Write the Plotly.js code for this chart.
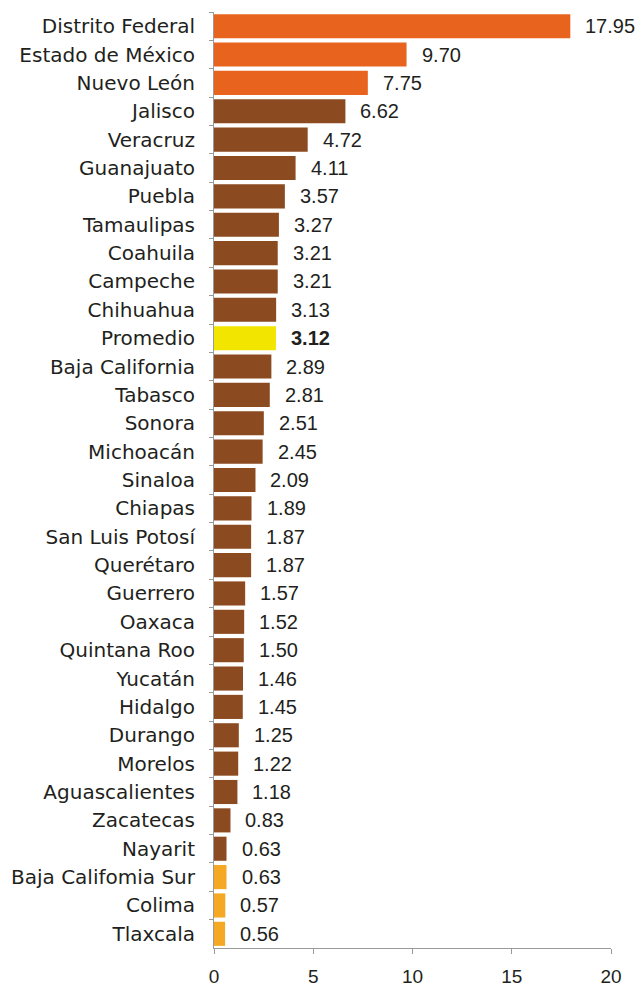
<!DOCTYPE html>
<html>
<head>
<meta charset="utf-8">
<script src="https://cdn.plot.ly/plotly-3.0.1.min.js"></script>
<style>html,body{margin:0;padding:0;background:#fff;}#chart{width:641px;height:988px;}</style>
</head>
<body>
<div id="chart"></div>
<script>
const states = ["Distrito Federal","Estado de México","Nuevo León","Jalisco","Veracruz","Guanajuato","Puebla","Tamaulipas","Coahuila","Campeche","Chihuahua","Promedio","Baja California","Tabasco","Sonora","Michoacán","Sinaloa","Chiapas","San Luis Potosí","Querétaro","Guerrero","Oaxaca","Quintana Roo","Yucatán","Hidalgo","Durango","Morelos","Aguascalientes","Zacatecas","Nayarit","Baja Califomia Sur","Colima","Tlaxcala"];
const values = [17.95,9.70,7.75,6.62,4.72,4.11,3.57,3.27,3.21,3.21,3.13,3.12,2.89,2.81,2.51,2.45,2.09,1.89,1.87,1.87,1.57,1.52,1.50,1.46,1.45,1.25,1.22,1.18,0.83,0.63,0.63,0.57,0.56];
const groups = ["top","top","top","mid","mid","mid","mid","mid","mid","mid","mid","avg","mid","mid","mid","mid","mid","mid","mid","mid","mid","mid","mid","mid","mid","mid","mid","mid","mid","mid","low","low","low"];
const groupColors = {top:"#E8641E", mid:"#8B4A1F", avg:"#F2E600", low:"#F4A823"};
const xTicks = [0,5,10,15,20];

const font = "Liberation Sans, Arial, sans-serif";
const labelFont = "DejaVu Sans, Liberation Sans, sans-serif";
const trace = {
  type: "bar",
  orientation: "h",
  x: values,
  y: states,
  marker: {color: groups.map(g => groupColors[g]), line: {width: 0}},
  hoverinfo: "none"
};
const annotations = values.map((v, i) => ({
  x: v, y: states[i], xref: "x", yref: "y",
  text: groups[i] === "avg" ? "<b>" + v.toFixed(2) + "</b>" : v.toFixed(2),
  showarrow: false, xanchor: "left", yanchor: "middle", xshift: 13,
  font: {family: font, size: 20, color: "#231F20"}
}));
const layout = {
  width: 641, height: 988,
  margin: {l: 214, r: 30, t: 12, b: 40},
  paper_bgcolor: "#fff", plot_bgcolor: "#fff",
  showlegend: false,
  bargap: 0.15,
  font: {family: font, size: 20, color: "#231F20"},
  xaxis: {
    range: [0, 20], tickvals: xTicks, ticktext: xTicks.map(String),
    showgrid: false, zeroline: false, showline: true, linecolor: "#9a9a9a", linewidth: 1,
    ticks: "outside", ticklen: 5, tickcolor: "#9a9a9a", ticklabelstandoff: 6,
    tickfont: {family: font, size: 19, color: "#231F20"}, fixedrange: true
  },
  yaxis: {
    type: "category", autorange: "reversed",
    showgrid: false, zeroline: false, showline: true, linecolor: "#9a9a9a", linewidth: 1,
    ticks: "outside", ticklen: 4, tickcolor: "#9a9a9a", tickson: "boundaries",
    ticklabelstandoff: 14,
    tickfont: {family: labelFont, size: 20, color: "#231F20"}, fixedrange: true
  },
  annotations: annotations
};
Plotly.newPlot("chart", [trace], layout, {displayModeBar: false, staticPlot: true});
</script>
</body>
</html>
